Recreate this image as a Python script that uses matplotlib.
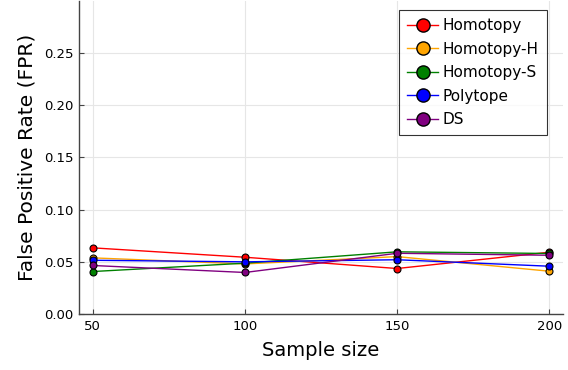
import matplotlib
matplotlib.use("Agg")
import matplotlib.pyplot as plt
from matplotlib.lines import Line2D

sample_sizes = [50, 100, 150, 200]
series_names = ["Homotopy", "Homotopy-H", "Homotopy-S", "Polytope", "DS"]
series_colors = ["red", "orange", "green", "blue", "purple"]
fpr_homotopy = [0.0634, 0.0544, 0.0436, 0.0592]
fpr_homotopy_h = [0.0538, 0.0480, 0.0550, 0.0410]
fpr_homotopy_s = [0.0407, 0.0487, 0.0596, 0.0580]
fpr_polytope = [0.0515, 0.0500, 0.0520, 0.0458]
fpr_ds = [0.0465, 0.0398, 0.0582, 0.0563]
y_ticks = [0.00, 0.05, 0.10, 0.15, 0.20, 0.25]
x_ticks = [50, 100, 150, 200]

series_values = [fpr_homotopy, fpr_homotopy_h, fpr_homotopy_s, fpr_polytope, fpr_ds]

plt.rcParams['font.family'] = ['DejaVu Sans']
fig = plt.figure(figsize=(5.68, 3.70), dpi=100)
ax = fig.add_axes([79 / 568, 1 - 314 / 370, (563 - 79) / 568, 313 / 370])

for vals, col in zip(series_values, series_colors):
    ax.plot(sample_sizes, vals, color=col, lw=1.0, marker='o', ms=5,
            mfc=col, mec='black', mew=0.8, zorder=3)

ax.set_xlim(45.5, 204.5)
ax.set_ylim(0, 0.30)
ax.set_xticks(x_ticks)
ax.set_yticks(y_ticks)
ax.set_yticklabels([f"{v:.2f}" for v in y_ticks])
ax.grid(True, color='#e6e6e6', lw=0.8)
ax.set_axisbelow(True)
for side in ['top', 'right']:
    ax.spines[side].set_visible(False)
for side in ['left', 'bottom']:
    ax.spines[side].set_color('#444444')
    ax.spines[side].set_linewidth(1.0)
ax.tick_params(direction='in', length=3.5, width=0.8, color='#444444',
               labelsize=9.5, pad=4)
ax.set_xlabel("Sample size", fontsize=14, labelpad=6)
ax.set_ylabel("False Positive Rate (FPR)", fontsize=14.5, labelpad=5)

handles = [Line2D([0], [0], color=c, lw=1.0, marker='o', ms=9.5, mfc=c,
                  mec='black', mew=1.0) for c in series_colors]
leg = ax.legend(handles, series_names, loc='upper right',
                bbox_to_anchor=(547 / 568, 1 - 10 / 370),
                bbox_transform=fig.transFigure, fontsize=11,
                frameon=True, fancybox=False, edgecolor='black',
                handlelength=2.0, handletextpad=0.3, labelspacing=0.55,
                borderpad=0.55, borderaxespad=0)
leg.get_frame().set_linewidth(0.8)

fig.savefig("out.png", dpi=100)
